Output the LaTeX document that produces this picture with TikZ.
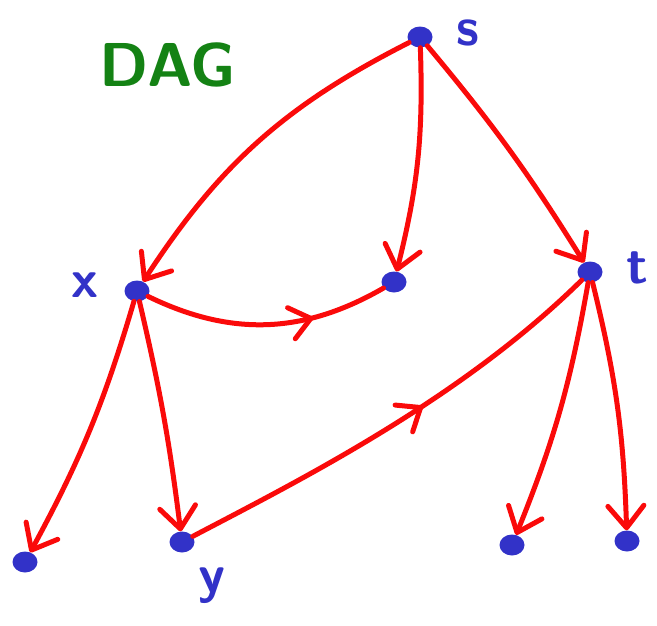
\documentclass[tikz,border=0pt]{standalone}
\usepackage{fontspec}
\usetikzlibrary{arrows.meta,decorations.markings,shapes.geometric}
\definecolor{penred}{RGB}{250,10,10}
\definecolor{penblue}{RGB}{50,50,200}
\definecolor{pengreen}{RGB}{20,130,20}
\tikzset{
  dot/.style={ellipse,fill=penblue,minimum width=25pt,minimum height=21pt,inner sep=0pt},
  lbl/.style={text=penblue,font=\sffamily\bfseries\fontsize{54}{54}\selectfont,inner sep=0pt,anchor=base},
  edge/.style={draw=penred,line width=5pt,line cap=round,line join=round},
  endarrow/.style={edge,-{Straight Barb[length=22pt,width=36pt,round]}},
  midarrow/.style={edge,postaction={decorate},decoration={markings,
    mark=at position #1 with {\draw[penred,line width=5pt,line cap=round,line join=round] (-20pt,16pt) -- (0,0) -- (-20pt,-16pt);}}}
}
\begin{document}
\begin{tikzpicture}[x=1pt,y=-1pt]
\useasboundingbox (0,0) rectangle (657,625);
\node[dot] (s) at (420,37) {};
\node[dot] (x) at (137,291) {};
\node[dot] (m) at (394,282) {};
\node[dot] (t) at (590,272) {};
\node[dot] (y) at (182,542) {};
\node[dot] (a) at (25,562) {};
\node[dot] (b) at (512,545) {};
\node[dot] (c) at (627,541) {};
\node[lbl] (ls) at (468,45) {s};
\node[lbl] (lx) at (85,297) {x};
\node[lbl] (lt) at (637,283) {t};
\node[lbl] (ly) at (212,592) {y};
\node[text=pengreen,font=\sffamily\bfseries\fontsize{62}{62}\selectfont,inner sep=0pt,anchor=base] (dag) at (168,86) {DAG};
\draw[endarrow] (s) to[bend right=15] (x);
\draw[endarrow] (s) to[bend left=8] (m);
\draw[endarrow] (s) to[bend left=4] (t);
\draw[midarrow=0.68] (x) to[bend right=28] (m);
\draw[endarrow] (x) to[bend left=6] (a);
\draw[endarrow] (x) to[bend left=3] (y);
\draw[midarrow=0.56] (y) .. controls (300,480) and (460,400) .. (t);
\draw[endarrow] (t) to[bend left=6] (b);
\draw[endarrow] (t) to[bend left=6] (c);
\end{tikzpicture}
\end{document}
